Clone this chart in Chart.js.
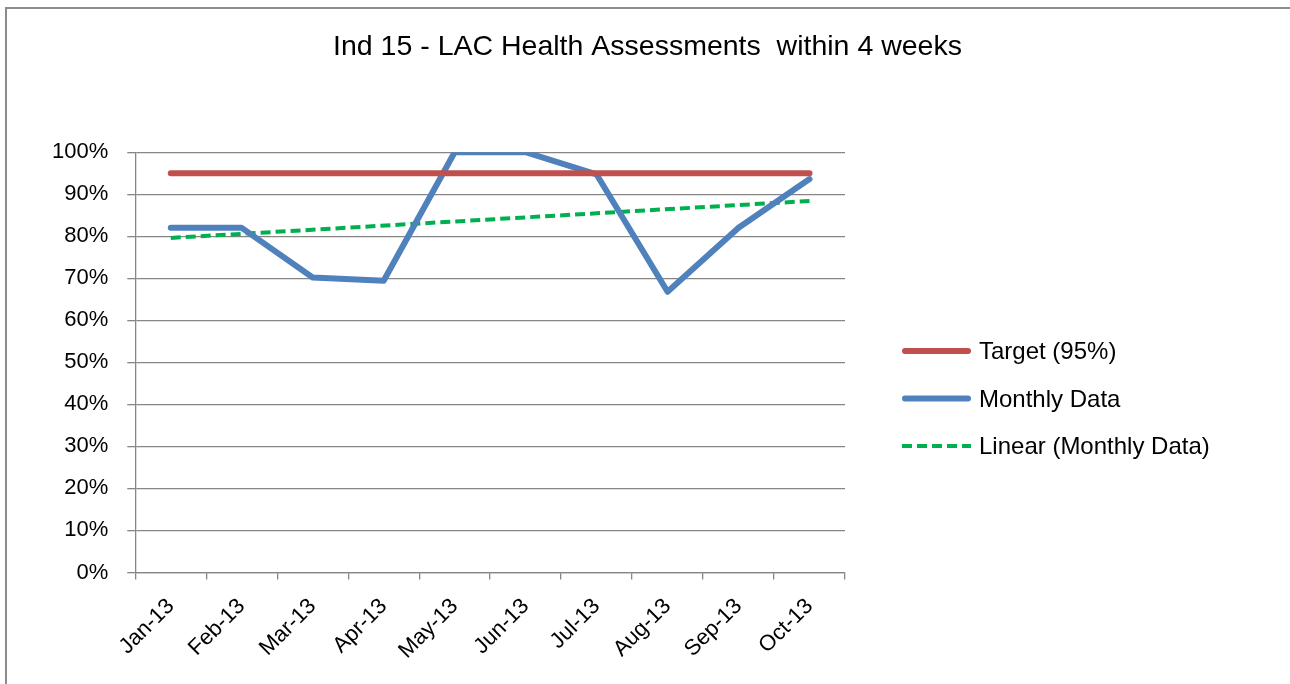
<!DOCTYPE html>
<html><head><meta charset="utf-8">
<script src="https://cdn.jsdelivr.net/npm/chart.js@4.4.1/dist/chart.umd.min.js"></script>
<style>
html,body{margin:0;padding:0;background:#fff;width:1290px;height:684px;overflow:hidden;}
#frame{position:absolute;left:5px;top:7px;width:1300px;height:700px;border:2px solid #8c8c8c;box-sizing:border-box;}
#c{position:absolute;left:0;top:0;}
</style></head><body>
<div id="frame"></div>
<canvas id="c" width="1290" height="684"></canvas>
<script>
const chartTitle = 'Ind 15 - LAC Health Assessments  within 4 weeks';
const months = ['Jan-13','Feb-13','Mar-13','Apr-13','May-13','Jun-13','Jul-13','Aug-13','Sep-13','Oct-13'];
const targetValues = [95,95,95,95,95,95,95,95,95,95];
const monthlyValues = [82,82,70.2,69.4,100,100,94.7,66.8,82,93.6];
const trendValues = [79.6,null,null,null,null,null,null,null,null,88.4];
const yTicks = [0,10,20,30,40,50,60,70,80,90,100];
const seriesNames = ['Target (95%)','Monthly Data','Linear (Monthly Data)'];

const FONT = '"Liberation Sans", Arial, sans-serif';
const GRID = '#868686';

// Legend drawn at the right, in the same place as the reference
const sideLegend = {
  id: 'sideLegend',
  afterDraw(chart) {
    const ctx = chart.ctx;
    const baselines = [359, 406.5, 454];
    chart.data.datasets.forEach((ds, i) => {
      const yc = baselines[i] - 8;
      ctx.save();
      ctx.strokeStyle = ds.borderColor;
      ctx.lineWidth = ds.borderWidth;
      ctx.lineCap = ds.borderCapStyle || 'butt';
      ctx.setLineDash(ds.borderDash || []);
      ctx.beginPath();
      if (ds.borderDash) { ctx.moveTo(902, yc); ctx.lineTo(971, yc); }
      else { ctx.moveTo(905, yc); ctx.lineTo(968, yc); }
      ctx.stroke();
      ctx.setLineDash([]);
      ctx.fillStyle = '#000';
      ctx.font = '24px ' + FONT;
      ctx.textBaseline = 'alphabetic';
      ctx.textAlign = 'left';
      ctx.fillText(ds.label, 979, baselines[i]);
      ctx.restore();
    });
  }
};

new Chart(document.getElementById('c'), {
  type: 'line',
  data: {
    labels: months,
    datasets: [
      { label: seriesNames[0], data: targetValues, borderColor: '#C0504D', backgroundColor: '#C0504D',
        borderWidth: 6, borderCapStyle: 'round', pointRadius: 0, tension: 0 },
      { label: seriesNames[1], data: monthlyValues, borderColor: '#4F81BD', backgroundColor: '#4F81BD',
        borderWidth: 6, borderCapStyle: 'round', borderJoinStyle: 'round', pointRadius: 0, tension: 0 },
      { label: seriesNames[2], data: trendValues, borderColor: '#00B050', backgroundColor: '#00B050',
        borderWidth: 4, borderDash: [10, 5], borderCapStyle: 'butt', pointRadius: 0, spanGaps: true, tension: 0 }
    ]
  },
  plugins: [sideLegend],
  options: {
    responsive: false,
    animation: false,
    devicePixelRatio: 1,
    layout: { padding: { left: 33, top: 0, right: 28, bottom: 6 } },
    plugins: {
      title: { display: true, text: chartTitle, color: '#000', font: { family: FONT, size: 28.5, weight: 'normal' },
               padding: { top: 30, bottom: 88 } },
      legend: { display: false },
      tooltip: { enabled: false }
    },
    scales: {
      x: {
        type: 'category', offset: true,
        grid: { offset: true, drawOnChartArea: false, drawTicks: true, tickLength: 7, color: GRID, lineWidth: 1.3 },
        border: { color: GRID, width: 1.3 },
        ticks: { color: '#000', font: { family: FONT, size: 22 }, minRotation: 45, maxRotation: 45, padding: 14, autoSkip: false }
      },
      y: {
        min: 0, max: 100,
        afterBuildTicks: s => { s.ticks = yTicks.map(v => ({ value: v })); },
        grid: { color: GRID, lineWidth: 1.3, tickLength: 8 },
        border: { color: GRID, width: 1.3 },
        ticks: { color: '#000', font: { family: FONT, size: 22 }, padding: 19, callback: v => v + '%' }
      },
      legendSpace: {
        type: 'linear', position: 'right', display: true,
        grid: { display: false }, border: { display: false }, ticks: { display: false },
        afterFit: s => { s.width = 417; }
      }
    }
  }
});
</script>
</body></html>
